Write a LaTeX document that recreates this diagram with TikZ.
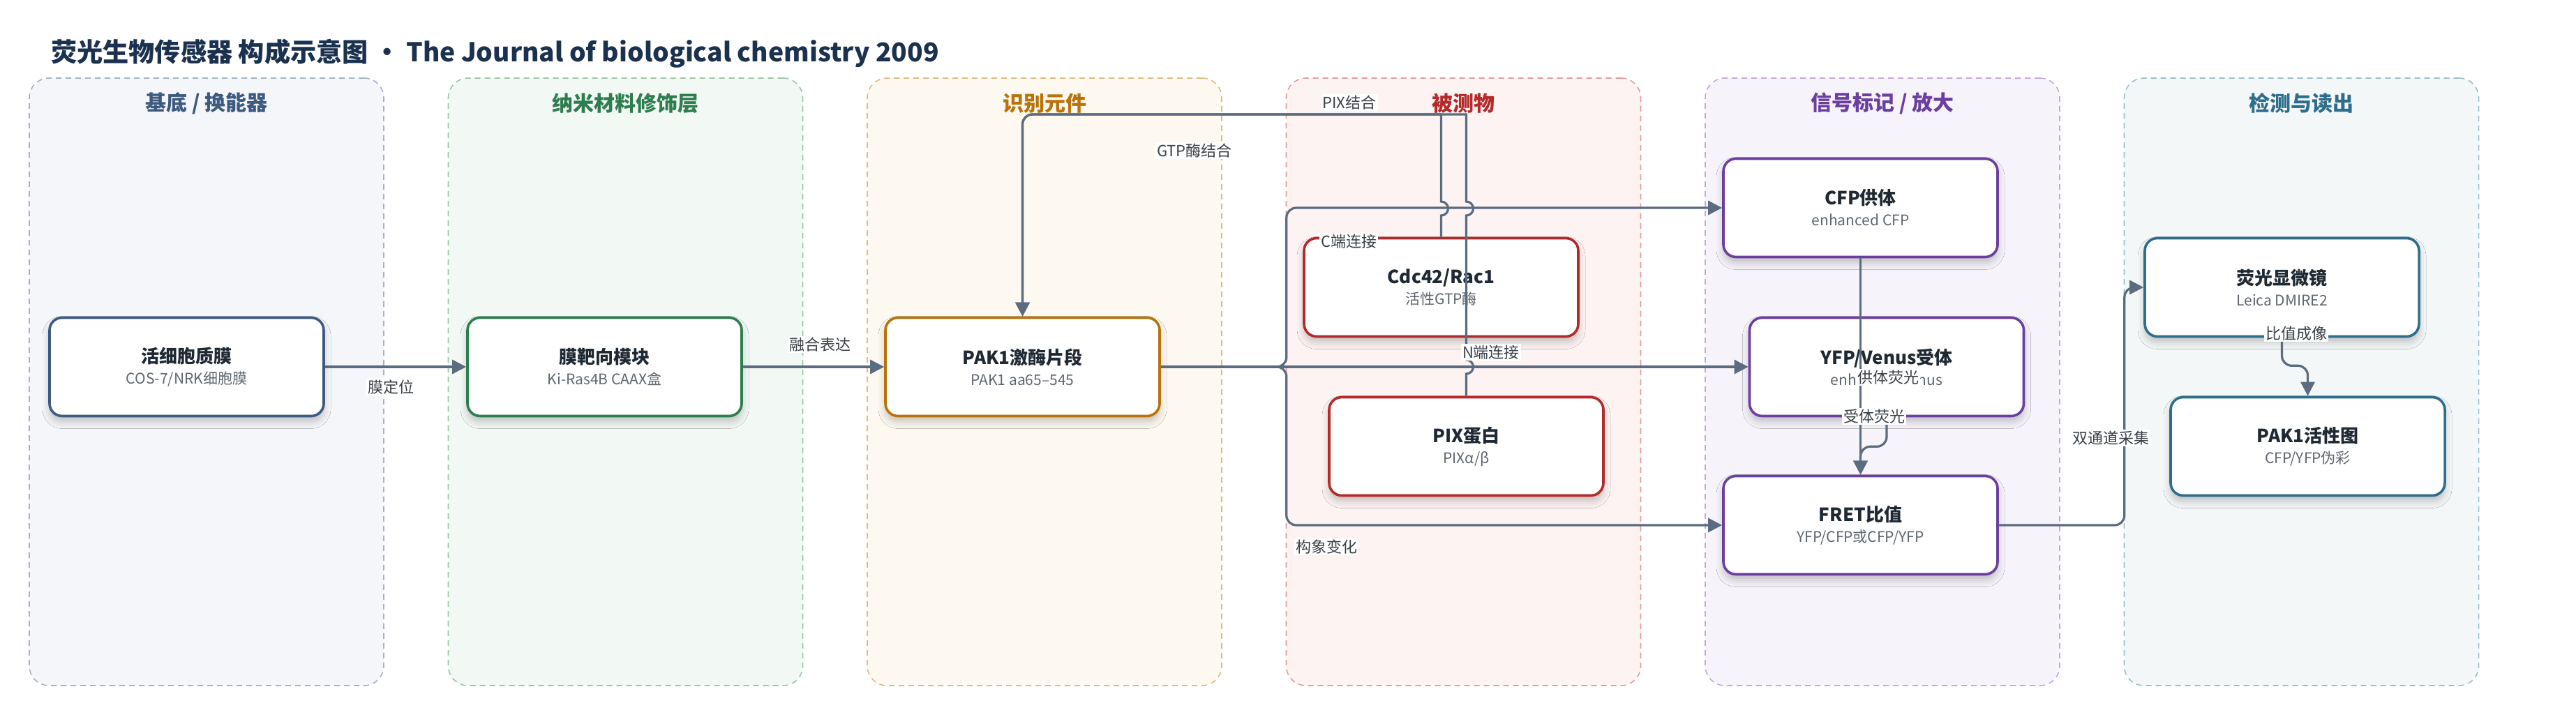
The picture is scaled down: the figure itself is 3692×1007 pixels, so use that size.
\documentclass[tikz,border=0pt]{standalone}
\usepackage{fontspec}
\setmainfont{Noto Sans CJK SC}
\usetikzlibrary{arrows.meta,shadows.blur}
\definecolor{edgec}{HTML}{5B6B80}
\definecolor{ink}{HTML}{1F2933}
\definecolor{subc}{HTML}{5F6670}
\definecolor{labc}{HTML}{3A4048}
\definecolor{titlec}{HTML}{1B3150}
\definecolor{cA}{HTML}{3D5A80}
\definecolor{cB}{HTML}{2E7D4F}
\definecolor{cC}{HTML}{B8730B}
\definecolor{cD}{HTML}{B22A2A}
\definecolor{cE}{HTML}{6B3FA0}
\definecolor{cF}{HTML}{2E6E8C}
\definecolor{fA}{HTML}{F5F6FA}
\definecolor{fB}{HTML}{F2F8F3}
\definecolor{fC}{HTML}{FEF9F0}
\definecolor{fD}{HTML}{FDF3F3}
\definecolor{fE}{HTML}{F7F3FB}
\definecolor{fF}{HTML}{F3F7F8}
\definecolor{dA}{HTML}{A5B2C6}
\definecolor{dB}{HTML}{9DC6A9}
\definecolor{dC}{HTML}{E2BA7E}
\definecolor{dD}{HTML}{E39C9C}
\definecolor{dE}{HTML}{C4A8E0}
\definecolor{dF}{HTML}{9ABFCB}
\newcommand{\boxtext}[2]{{\fontsize{13}{16}\selectfont\bfseries\color{ink}#1}\\[3pt]{\fontsize{10.5}{13}\selectfont\color{subc}#2}}
\begin{document}
\begin{tikzpicture}[x=0.5pt,y=-0.5pt,
  lane/.style={draw=#1, line width=0.8pt, dash pattern=on 4pt off 3pt, rounded corners=14pt, minimum width=254pt, minimum height=435.5pt, inner sep=0pt},
  lanetitle/.style={font=\fontsize{15}{18}\selectfont\bfseries, text=#1},
  box/.style={draw=#1, line width=1.8pt, fill=white, rounded corners=9pt, minimum width=196.5pt, minimum height=70.5pt, inner sep=0pt, align=center, blur shadow={shadow xshift=0pt,shadow yshift=-4pt,shadow blur radius=5pt,shadow opacity=22}},
  conn/.style={draw=edgec, line width=1.6pt, rounded corners=7pt},
  arr/.style={conn, -{Triangle[length=10pt,width=10pt]}},
  lab/.style={fill=white, inner sep=1pt, text=labc, font=\fontsize{11}{13}\selectfont},
]
\useasboundingbox (0,0) rectangle (3692,1007);
\fill[white] (0,0) rectangle (3692,1007);

\node[anchor=west, text=titlec, font=\fontsize{18.6}{22}\selectfont\bfseries] (title) at (66,77) {荧光生物传感器 构成示意图 · The Journal of biological chemistry 2009};

% lanes
\node[lane=dA, fill=fA] (L1) at (296,547.5) {};
\node[lane=dB, fill=fB] (L2) at (896.5,547.5) {};
\node[lane=dC, fill=fC] (L3) at (1497,547.5) {};
\node[lane=dD, fill=fD] (L4) at (2097.5,547.5) {};
\node[lane=dE, fill=fE] (L5) at (2698,547.5) {};
\node[lane=dF, fill=fF] (L6) at (3298.5,547.5) {};
\node[lanetitle=cA] (T1) at (296,148) {基底 / 换能器};
\node[lanetitle=cB] (T2) at (896.5,148) {纳米材料修饰层};
\node[lanetitle=cC] (T3) at (1497,148) {识别元件};
\node[lanetitle=cD] (T4) at (2097.5,148) {被测物};
\node[lanetitle=cE] (T5) at (2698,148) {信号标记 / 放大};
\node[lanetitle=cF] (T6) at (3298.5,148) {检测与读出};

% nodes
\node[box=cA] (n1) at (267.5,526) {\boxtext{活细胞质膜}{COS-7/NRK细胞膜}};
\node[box=cB] (n2) at (866.5,526) {\boxtext{膜靶向模块}{Ki-Ras4B CAAX盒}};
\node[box=cC] (pak) at (1465.5,526) {\boxtext{PAK1激酶片段}{PAK1 aa65–545}};
\node[box=cD] (cdc) at (2065.5,412) {\boxtext{Cdc42/Rac1}{活性GTP酶}};
\node[box=cD] (pix) at (2101.5,640) {\boxtext{PIX蛋白}{PIXα/β}};
\node[box=cE] (cfp) at (2666.5,298) {\boxtext{CFP供体}{enhanced CFP}};
\node[box=cE] (yfp) at (2704,526) {\boxtext{YFP/Venus受体}{enhanced Venus}};
\node[box=cE] (fret) at (2666.5,753) {\boxtext{FRET比值}{YFP/CFP或CFP/YFP}};
\node[box=cF] (mic) at (3270.5,412) {\boxtext{荧光显微镜}{Leica DMIRE2}};
\node[box=cF] (map) at (3307.5,640) {\boxtext{PAK1活性图}{CFP/YFP伪彩}};

% connectors
\draw[arr] (n1.east) -- (n2.west);
\draw[arr] (n2.east) -- (pak.west);
\draw[arr] (pak.east) -- (yfp.west);
\draw[arr] (pak.east) -- ++(180,0) |- (cfp.west);
\draw[arr] (pak.east) -- ++(180,0) |- (fret.west);
\draw[arr] (cdc.north) [sharp corners] -- (2065.5,309) arc[start angle=-90,end angle=90,radius=5pt] -- (2065.5,164) [rounded corners=7pt] -- (1465.5,164) -- (pak.north);
\draw[arr] (pix.north) [sharp corners] -- (2101.5,536) arc[start angle=-90,end angle=90,radius=5pt] -- (2101.5,309) arc[start angle=-90,end angle=90,radius=5pt] -- (2101.5,164) [rounded corners=7pt] -- (1465.5,164) -- (pak.north);
\draw[arr] (cfp.south) -- (fret.north);
\draw[arr] (yfp.south) -- ++(0,42) -| (fret.north);
\draw[arr] (fret.east) -- ++(180,0) |- (mic.west);
\draw[arr] (mic.south) -- ++(0,40) -| (map.north);

% labels
\node[lab] (l1) at (560,555) {膜定位};
\node[lab] (l2) at (1175,494) {融合表达};
\node[lab] (l3) at (1712,216) {GTP酶结合};
\node[lab] (l4) at (1934,147) {PIX结合};
\node[lab] (l5) at (1933,346) {C端连接};
\node[lab] (l6) at (2137,505) {N端连接};
\node[lab] (l7) at (1901,784) {构象变化};
\node[lab] (l8) at (2706,541) {供体荧光};
\node[lab] (l9) at (2686,597) {受体荧光};
\node[lab] (l10) at (3025,628) {双通道采集};
\node[lab] (l11) at (3291,478) {比值成像};
\end{tikzpicture}
\end{document}
